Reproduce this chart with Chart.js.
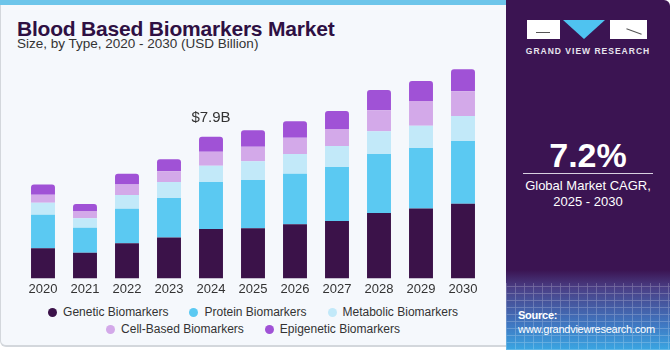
<!DOCTYPE html>
<html>
<head>
<meta charset="utf-8">
<script src="https://cdn.jsdelivr.net/npm/chart.js@4.4.1/dist/chart.umd.min.js"></script>
<style>
  body { margin: 0; width: 670px; height: 350px; overflow: hidden; background: #fff; font-family: 'Liberation Sans', Arial, sans-serif; }
  .card { position: absolute; left: 0; top: 0; width: 506px; height: 347px; background: #f5f8fc; border-left: 1px solid #d3d7dc; border-bottom: 2px solid #d3d7dc; border-bottom-left-radius: 6px; box-sizing: border-box; }
  .stripe { position: absolute; left: 0; top: 0; width: 506px; height: 5px; background: #6dc5ea; }
  .title { position: absolute; left: 17px; top: 17px; font-size: 21px; font-weight: 900; color: #2e1043; letter-spacing: -0.2px; }
  .subtitle { position: absolute; left: 17px; top: 36px; font-size: 13.5px; color: #333; }
  .chart-wrap { position: absolute; left: 0; top: 55px; width: 506px; height: 245px; }
  .legend { position: absolute; left: 0; top: 305px; width: 506px; display: flex; flex-wrap: wrap; justify-content: center; column-gap: 21px; row-gap: 2px; font-size: 12px; color: #333; }
  .legend span { display: inline-flex; align-items: center; line-height: 15px; }
  .legend i { display: inline-block; width: 9px; height: 9px; border-radius: 50%; margin-right: 6px; }
  .panel { position: absolute; left: 506px; top: 0; width: 164px; height: 350px; background: linear-gradient(to bottom, #3b1452 0px, #3b1452 270px, #4a3f86 288px, #3f78c2 325px, #3aa6e2 350px); border-top-right-radius: 6px; overflow: hidden; }
  .mesh { position: absolute; left: 0; top: 283px; width: 164px; height: 67px; opacity: 0.25;
    background-image: repeating-linear-gradient(90deg, rgba(255,255,255,0.8) 0 1px, transparent 1px 9px), repeating-linear-gradient(0deg, rgba(255,255,255,0.8) 0 1px, transparent 1px 7px); }
  .logo-box { position: absolute; top: 20px; height: 19px; background: #fff; }
  .logo-line { position: absolute; height: 1px; background: #555; }
  .tri { position: absolute; left: 57px; top: 20px; width: 0; height: 0; border-left: 21.5px solid transparent; border-right: 21.5px solid transparent; border-top: 19px solid #4fc3f0; }
  .gvr { position: absolute; left: 0; width: 164px; top: 46px; text-align: center; font-size: 8.5px; font-weight: bold; color: #e8e4ee; letter-spacing: 1px; }
  .cagr { position: absolute; left: 0; width: 164px; top: 136px; text-align: center; font-size: 34px; font-weight: bold; color: #fff; }
  .rule { position: absolute; left: 17px; width: 130px; top: 173px; height: 1px; background: #d8d0e0; }
  .cagr-text { position: absolute; left: 0; width: 164px; top: 178px; text-align: center; font-size: 13px; color: #fff; line-height: 15.5px; }
  .source { position: absolute; left: 12px; top: 308px; font-size: 11px; letter-spacing: -0.25px; color: #fff; line-height: 14px; white-space: nowrap; }
</style>
</head>
<body>
<div class="card"></div>
<div class="stripe"></div>
<div class="title">Blood Based Biomarkers Market</div>
<div class="subtitle">Size, by Type, 2020 - 2030 (USD Billion)</div>
<div class="chart-wrap"><canvas id="chart"></canvas></div>
<div class="legend" id="legend"></div>

<div class="panel">
  <div class="mesh"></div>
  <div class="logo-box" style="left:21px;width:33px;"></div>
  <div class="logo-line" style="left:30px;width:14px;top:32px;"></div>
  <div class="tri"></div>
  <div class="logo-box" style="left:104px;width:37px;"></div>
  <div class="logo-line" style="left:120px;width:16px;top:31px;transform:rotate(20deg);"></div>
  <div class="gvr">GRAND VIEW RESEARCH</div>
  <div class="cagr">7.2%</div>
  <div class="rule"></div>
  <div class="cagr-text">Global Market CAGR,<br>2025 - 2030</div>
  <div class="source"><b>Source:</b><br>www.grandviewresearch.com</div>
</div>

<script>
const years = ['2020', '2021', '2022', '2023', '2024', '2025', '2026', '2027', '2028', '2029', '2030'];

const genetic    = [1.69, 1.43, 1.96, 2.29, 2.76, 2.80, 3.02, 3.20, 3.65, 3.91, 4.17];
const protein    = [1.86, 1.40, 1.93, 2.20, 2.63, 2.70, 2.83, 3.02, 3.30, 3.37, 3.50];
const metabolic  = [0.67, 0.53, 0.77, 0.89, 0.91, 1.05, 1.10, 1.17, 1.27, 1.25, 1.40];
const cellBased  = [0.45, 0.41, 0.58, 0.61, 0.77, 0.80, 0.91, 0.95, 1.17, 1.38, 1.38];
const epigenetic = [0.58, 0.39, 0.60, 0.67, 0.84, 0.93, 0.92, 1.01, 1.13, 1.12, 1.23];

const seriesNames = ['Genetic Biomarkers', 'Protein Biomarkers', 'Metabolic Biomarkers', 'Cell-Based Biomarkers', 'Epigenetic Biomarkers'];
const seriesColors = ['#3b1249', '#5bc9f2', '#c2e9f9', '#d3a9e9', '#a052d6'];

const calloutYear = '2024';
const calloutText = '$7.9B';

const seriesData = [genetic, protein, metabolic, cellBased, epigenetic];

const calloutPlugin = {
    id: 'callout',
    afterDatasetsDraw(chart) {
        const idx = years.indexOf(calloutYear);
        const meta = chart.getDatasetMeta(chart.data.datasets.length - 1);
        const bar = meta.data[idx];
        const ctx = chart.ctx;
        ctx.save();
        ctx.font = '15px "Liberation Sans", Arial, sans-serif';
        ctx.fillStyle = '#333';
        ctx.textAlign = 'center';
        ctx.textBaseline = 'middle';
        ctx.fillText(calloutText, bar.x, bar.y - 19);
        ctx.restore();
    }
};

function createChart() {
    const ctx = document.getElementById('chart').getContext('2d');
    return new Chart(ctx, {
        type: 'bar',
        data: {
            labels: years,
            datasets: seriesData.map((data, i) => ({
                label: seriesNames[i],
                data: data,
                backgroundColor: seriesColors[i],
                borderWidth: 0,
                borderRadius: i === seriesData.length - 1 ? 3 : 0,
                barPercentage: 0.57,
                categoryPercentage: 1,
            }))
        },
        options: {
            responsive: true,
            maintainAspectRatio: false,
            animation: false,
            layout: { padding: { left: 22, right: 22, top: 8.6, bottom: 0 } },
            plugins: {
                legend: { display: false },
                tooltip: { enabled: false },
            },
            scales: {
                x: {
                    stacked: true,
                    grid: { display: false, drawTicks: false },
                    border: { display: false },
                    ticks: {
                        color: '#333',
                        padding: 3,
                        font: { family: '"Liberation Sans", Arial, sans-serif', size: 13 },
                    },
                },
                y: {
                    stacked: true,
                    display: false,
                    min: 0,
                    max: 12,
                },
            },
        },
        plugins: [calloutPlugin],
    });
}

function buildLegend() {
    const legend = document.getElementById('legend');
    seriesNames.forEach((name, i) => {
        const item = document.createElement('span');
        item.innerHTML = `<i style="background:${seriesColors[i]}"></i>${name}`;
        legend.appendChild(item);
    });
}

document.addEventListener('DOMContentLoaded', () => {
    createChart();
    buildLegend();
});
</script>
</body>
</html>
